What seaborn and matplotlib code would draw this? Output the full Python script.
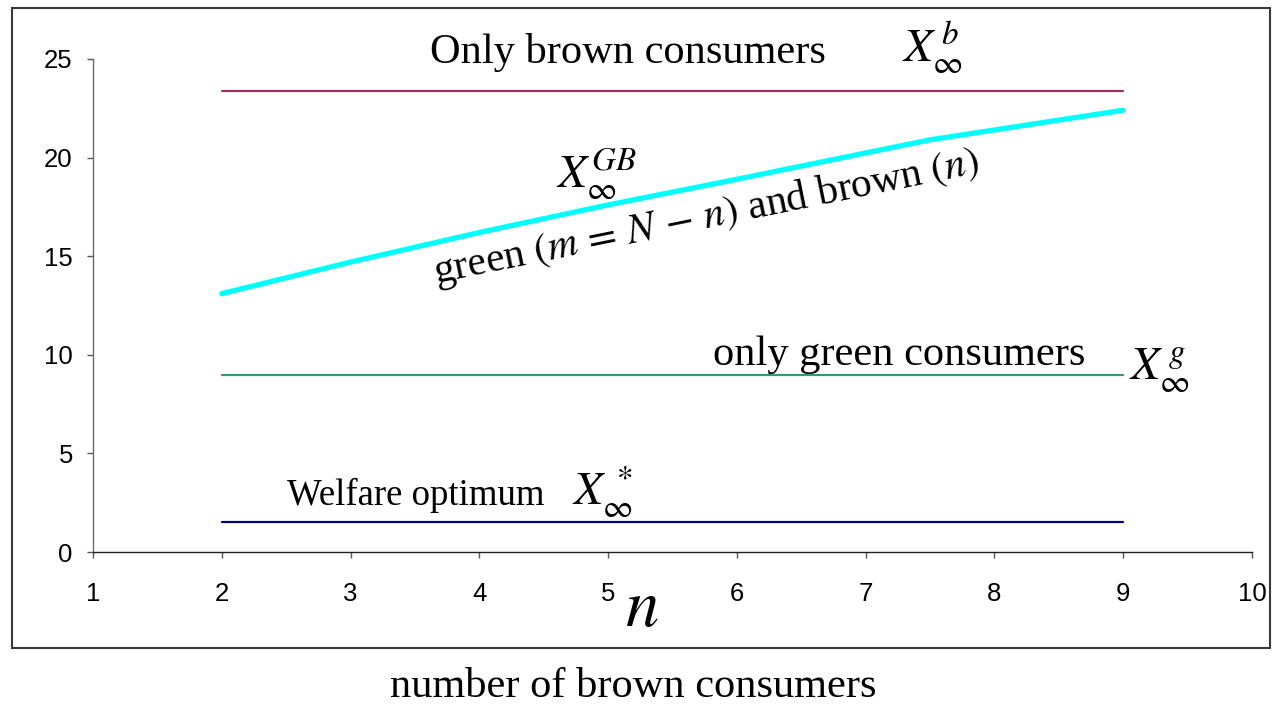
import matplotlib
matplotlib.use("Agg")
import matplotlib.pyplot as plt
from matplotlib.patches import Rectangle
import seaborn as sns

# Equilibrium pollution stock X_inf versus the number of brown consumers n
n_mixed = [2, 3, 4, 5, 6, 7.5, 9]
x_mixed = [13.1, 14.7, 16.2, 17.6, 18.9, 20.9, 22.4]
n_span = [2, 9]
x_brown_only = [23.4, 23.4]
x_green_only = [9.0, 9.0]
x_optimum = [1.5, 1.5]
x_ticks = [1, 2, 3, 4, 5, 6, 7, 8, 9, 10]
y_ticks = [0, 5, 10, 15, 20, 25]

sns.set_style("ticks")
plt.rcParams["font.family"] = ["Liberation Sans", "DejaVu Sans"]
plt.rcParams["mathtext.fontset"] = "stix"
plt.rcParams["text.color"] = "black"
plt.rcParams["xtick.labelcolor"] = "black"
plt.rcParams["ytick.labelcolor"] = "black"

W, H = 1272, 704
fig = plt.figure(figsize=(W / 100, H / 100), dpi=100)
fig.patch.set_facecolor("white")
fig.patches.append(Rectangle((12 / W, 1 - 648 / H), 1258 / W, 640 / H,
                             transform=fig.transFigure, fill=False,
                             ec="#3a3a3a", lw=1.5))

ax = fig.add_axes([93 / W, 1 - 552 / H, 1159 / W, 493 / H])
ax.set_facecolor("white")

sns.lineplot(x=n_span, y=x_brown_only, ax=ax, color="#993366", lw=1.6)
sns.lineplot(x=n_mixed, y=x_mixed, ax=ax, color="#00FFFF", lw=3.8,
             solid_capstyle="round")
sns.lineplot(x=n_span, y=x_green_only, ax=ax, color="#339966", lw=1.6)
sns.lineplot(x=n_span, y=x_optimum, ax=ax, color="#000080", lw=1.6)

ax.set_xlim(1, 10)
ax.set_ylim(0, 25)
ax.set_xticks(x_ticks)
ax.set_yticks(y_ticks)
ax.set_xticklabels([str(t) for t in x_ticks])
ax.set_yticklabels([str(t) for t in y_ticks])
ax.tick_params(axis="both", labelsize=18.5, length=4.5, width=1,
               color="#555555", labelcolor="black", direction="out")
ax.tick_params(axis="x", pad=17)
ax.tick_params(axis="y", pad=10)
sns.despine(ax=ax)
ax.spines["left"].set_color("#6a6a6a")
ax.spines["bottom"].set_color("#202020")
ax.spines["left"].set_linewidth(1)
ax.spines["bottom"].set_linewidth(1)
ax.set_xlabel("")
ax.set_ylabel("")

serif = ["Liberation Serif", "DejaVu Serif"]
big = 30.5
math = 34

ax.text(3.62, 24.8, "Only brown consumers", family=serif, fontsize=big,
        ha="left", va="baseline", clip_on=False)
ax.text(7.28, 24.85, r"$X_{\infty}^{\,b}$", fontsize=math,
        ha="left", va="baseline", clip_on=False)

ax.text(4.595, 18.5, r"$X_{\infty}^{GB}$", fontsize=math,
        ha="left", va="baseline")
ax.text(3.66, 13.65, r"green $(m\,=\,N\,-\,n)$ and brown $(n)$",
        family=serif, fontsize=30, rotation=11.5, rotation_mode="anchor",
        ha="left", va="baseline")

ax.text(5.814, 9.5, "only green consumers", family=serif, fontsize=big,
        ha="left", va="baseline")
ax.text(9.045, 8.7, r"$X_{\infty}^{\,g}$", fontsize=math,
        ha="left", va="baseline", clip_on=False)

ax.text(2.506, 2.38, "Welfare optimum", family=serif, fontsize=26.5,
        ha="left", va="baseline")
ax.text(4.72, 2.38, r"$X_{\infty}^{\,*}$", fontsize=math,
        ha="left", va="baseline")

ax.text(5.13, -3.75, r"$n$", fontsize=48, ha="left", va="baseline",
        clip_on=False)

fig.text(633 / W, 1 - 697 / H, "number of brown consumers", family=serif,
         fontsize=big, ha="center", va="baseline")

fig.savefig("out.png", dpi=100, facecolor="white")
